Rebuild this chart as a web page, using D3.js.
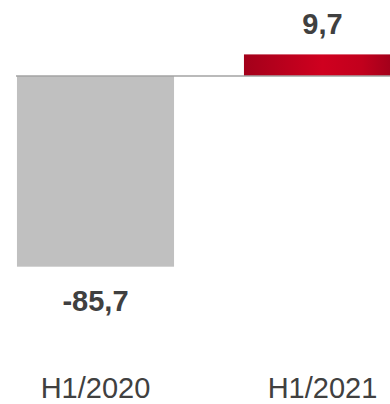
<!DOCTYPE html>
<html>
<head>
<meta charset="utf-8">
<script src="https://cdn.jsdelivr.net/npm/d3@7"></script>
<style>
  html, body { margin: 0; padding: 0; background: #fff; }
  svg { display: block; }
  text { font-family: "Liberation Sans", Arial, Helvetica, sans-serif; }
</style>
</head>
<body>
<svg id="chart" width="390" height="404"></svg>
<script>
// Half-year results
const periods = ["H1/2020", "H1/2021"];
const values = [-85.7, 9.7];
const valueLabels = ["-85,7", "9,7"];

const W = 390, H = 404;
const svg = d3.select("#chart");

const x = d3.scaleBand()
  .domain(periods)
  .range([-18, 436])
  .paddingInner(0.308)
  .paddingOuter(0.154);

const y = d3.scaleLinear()
  .domain([d3.min(values), d3.max(values)])
  .range([266.7, 54.4]);

// Horizontal "cylinder" shading for the highlighted bar
const defs = svg.append("defs");
const grad = defs.append("linearGradient")
  .attr("id", "redBar")
  .attr("x1", "0%").attr("x2", "100%")
  .attr("y1", "0%").attr("y2", "0%");
[["0%", "#a3001a"], ["18%", "#b3001c"], ["50%", "#cf001f"], ["75%", "#c2001d"], ["100%", "#98001a"]]
  .forEach(([o, c]) => grad.append("stop").attr("offset", o).attr("stop-color", c));

const data = periods.map((p, i) => ({ period: p, value: values[i], label: valueLabels[i] }));

svg.selectAll("rect.bar")
  .data(data)
  .join("rect")
  .attr("class", "bar")
  .attr("x", d => x(d.period))
  .attr("width", x.bandwidth())
  .attr("y", d => y(Math.max(0, d.value)))
  .attr("height", d => Math.abs(y(d.value) - y(0)))
  .attr("fill", d => d.value < 0 ? "#c0c0c0" : "url(#redBar)");

// Zero baseline
svg.append("line")
  .attr("x1", 16).attr("x2", W)
  .attr("y1", y(0)).attr("y2", y(0))
  .attr("stroke", "#a3a3a3")
  .attr("stroke-width", 1.6);

// Value labels
svg.selectAll("text.value")
  .data(data)
  .join("text")
  .attr("class", "value")
  .attr("x", d => x(d.period) + x.bandwidth() / 2)
  .attr("y", d => d.value < 0 ? y(d.value) + 44 : y(d.value) - 20)
  .attr("text-anchor", "middle")
  .attr("font-size", 29)
  .attr("font-weight", "bold")
  .attr("fill", "#404040")
  .text(d => d.label);

// Category labels
svg.selectAll("text.cat")
  .data(periods)
  .join("text")
  .attr("class", "cat")
  .attr("x", d => x(d) + x.bandwidth() / 2)
  .attr("y", 398)
  .attr("text-anchor", "middle")
  .attr("font-size", 29)
  .attr("fill", "#404040")
  .text(d => d);
</script>
</body>
</html>
